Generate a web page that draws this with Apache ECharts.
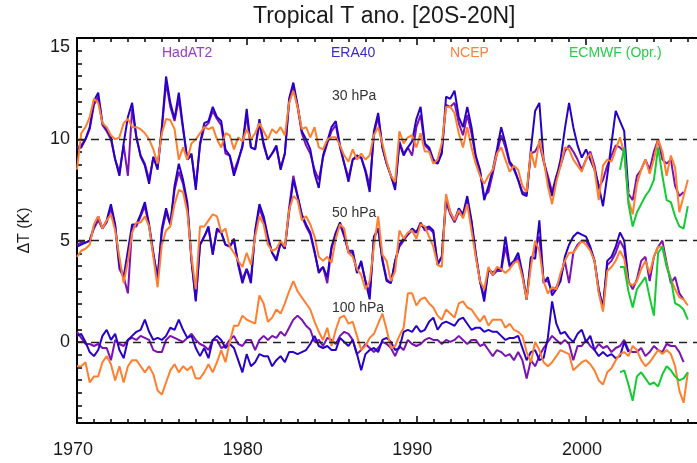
<!DOCTYPE html>
<html>
<head>
<meta charset="utf-8">
<script src="https://cdn.jsdelivr.net/npm/echarts@6/dist/echarts.min.js"></script>
<style>
  html, body { margin: 0; padding: 0; background: #fff; }
  #main { width: 697px; height: 463px; }
</style>
</head>
<body>
<div id="main"></div>
<script>
// quarterly anomalies (K); offsets below stack the levels
const t0 = 1970
const tEcmwf = 2002
const step = 0.25
const levelOffset = { '30 hPa': 10, '50 hPa': 5, '100 hPa': 0 }

// ---- 30 hPa ----
const had30 = [
  -0.4, -0.3, 0.0, 0.5,  1.7, 2.1, 0.7, 0.4,  0.0, -1.0, -1.6, -0.3,  -1.8, 1.5, 0.1, -0.8,
  -1.2, -2.0, -0.9, -1.4,  0.5, 2.8, 1.6, 0.9,  2.0, 0.5, -1.0, -0.8,  -2.3, -0.3, 0.6, 0.8,
  1.4, 1.0, 0.7, -0.7,  -0.8, -1.6, -1.0, -0.4,  1.2, -0.4, -0.5, 0.8,  -0.3, -1.0, -0.7, -0.4,
  -1.4, -0.7, 1.8, 2.6,  1.6, 0.3, -0.3, -0.7,  -1.5, -2.0, -0.9, -0.2,  0.4, 0.7, -0.4, -1.2,
  -1.9, -1.0, -0.9, -0.9,  -1.5, -2.3, 0.3, 1.1,  -0.4, -1.2, -1.8, -2.3,  -0.1, -0.7, -0.4, -0.8,
  0.6, 1.2, -0.3, -0.5,  -1.1, -1.2, -0.6, 1.7,  1.6, 1.8, 0.8, 0.2,  1.2, 0.3, -0.9, -1.6,
  -2.8, -2.6, -1.7, -0.7,  0.2, -0.4, -1.2, -1.5,  -2.0, -2.6, -2.7, -0.7,  -0.6, -0.2, -1.1, -1.8,
  -2.6, -1.8, -1.3, -0.6,  -0.3, -0.6, -1.0, -1.5,  -1.0, -0.6, -1.3, -2.4,  -2.0, -1.3, -0.8, -0.3,
  -0.4, -0.6, -2.7, -3.0,  -1.8, -1.5, -1.0, -1.5,  -0.6, 0.0, -1.0, -1.2,  -1.0, -2.3, -2.8, -2.6
]
const era30 = [
  -0.5, -0.4, 0.0, 0.6,  1.9, 2.3, 0.8, 0.5,  0.1, -1.0, -1.8, -0.2,  1.1, 1.8, 0.1, -0.85,
  -1.3, -2.2, -0.85, -1.5,  0.6, 3.1, 1.8, 1.0,  2.3, 0.6, -1.0, -0.7,  -2.5, -0.2, 0.8, 0.9,
  1.6, 1.1, 0.9, -0.5,  -0.8, -1.8, -1.1, -0.3,  1.5, -0.4, -0.5, 1.0,  -0.2, -1.0, -0.7, -0.3,
  -1.5, -0.7, 2.0, 2.8,  1.7, 0.4, 0.0, -0.5,  -1.7, -2.4, -0.8, -0.1,  0.6, 0.9, -0.3, -1.2,
  -2.1, -1.0, -0.8, -0.9,  -1.6, -2.6, 0.4, 1.3,  -0.4, -1.2, -1.8, -2.5,  -0.2, -0.8, -0.4, -0.1,
  1.0, 1.6, -0.2, -0.4,  -1.0, -1.2, -0.7, 2.1,  2.0, 2.4, 1.1, 0.6,  1.6, 0.6, -0.8, -1.5,
  -3.0, -2.3, -1.5, -0.5,  0.6, -0.2, -1.1, -1.4,  -2.0, -2.7, -2.8, -0.5,  1.4, 1.8, -1.0, -2.0,
  -2.8, -1.9, -1.0, 0.5,  1.8, 0.6, -0.3, -0.9,  -0.5, -1.0, -1.5, -2.3,  -3.3, -1.8, -0.2, 1.4,
  0.9, 0.4, -2.6
]
const ncep30 = [
  -1.5, 0.3, 0.6, 1.1,  2.0, 1.8, 0.8, 0.6,  0.2, 0.0, 0.1, 0.8,  1.0, 0.6, 0.6, 0.5,
  0.3, 0.0, -0.5, -1.2,  0.3, 1.0, 0.95, 0.5,  -1.0, -0.4, -1.0, -0.2,  0.0, 0.3, 0.6, 0.5,
  0.6, 0.0, -0.4, 0.3,  0.2, -0.5, 0.1, -0.1,  0.5, 0.0, 0.3, 0.8,  0.4, 0.0, 0.5, 0.3,
  0.6, 0.2, 1.8, 2.4,  1.6, 0.5, 0.6, 0.1,  0.6, -0.4, -0.5, 0.0,  0.1, 0.1, -0.3, -0.8,
  -1.1, -0.5, -1.0, -0.7,  -1.0, -0.8, 0.2, 0.6,  -0.2, -1.1, -1.8, -2.1,  0.4, -0.2, 0.1, 0.2,
  -0.4, 0.3, -0.6, -0.6,  -1.2, -1.0, -0.2, 1.6,  1.6, 1.3, 0.3, -0.4,  0.6, -0.4, -1.2, -1.8,
  -2.2, -1.8, -1.5, -0.7,  -0.4, -1.0, -1.6, -1.3,  -1.5, -2.3, -2.6, -0.6,  -1.4, 0.0, -1.0, -2.3,
  -3.2, -2.1, -1.3, -0.4,  -0.5, -1.0, -1.3, -1.6,  -1.0, -0.7, -1.5, -3.0,  -1.3, -1.0, -1.1, -0.5,
  0.1, -0.7, -3.0, -3.7,  -2.2, -1.5, -1.0, -1.7,  -1.0, 0.0, -0.6, -1.8,  -0.8, -1.4, -3.6, -2.8,
  -2.0
]
const ecmwf30 = [-1.5, -0.4, -3.2, -4.3, -3.6, -3.2, -2.8, -2.5, -2.0, -0.4, -1.8, -3.0, -3.1, -3.8, -4.3, -4.4, -3.3]

// ---- 50 hPa ----
const had50 = [
  -0.2, -0.1, -0.1, 0.0,  0.6, 1.0, 0.6, 0.9,  1.6, 0.7, -1.4, -1.8,  -2.6, 0.7, 0.7, 1.2,
  1.7, 0.7, -0.7, -1.8,  0.4, 1.4, 0.8, 2.5,  3.4, 2.8, 1.7, -1.0,  -2.9, -0.2, 0.2, 0.6,
  -0.6, 0.5, 0.4, -0.2,  -0.3, 0.0, -1.1, -1.9,  -1.4, -1.9, 0.4, 1.6,  1.0, 0.1, -0.6, -0.9,
  -0.1, -0.4, 1.6, 3.2,  2.2, 1.2, 0.7, 0.3,  -0.6, -1.5, -1.3, -2.1,  -0.4, 0.3, 0.8, 0.2,
  -0.6, -0.6, -1.5, -1.1,  -2.0, -2.6, 0.1, 0.6,  -0.9, -1.9, -2.1, -1.0,  -0.3, 0.0, 0.3, 0.5,
  0.4, 0.9, 0.5, 0.6,  0.4, -1.1, -0.8, 1.9,  1.3, 0.9, 1.4, 1.2,  2.0, 0.9, -0.7, -2.0,
  -2.8, -1.4, -1.7, -1.5,  -1.5, -0.3, -1.3, -1.1,  -0.8, -1.7, -2.9, -1.0,  -0.4, 0.2, -2.0, -2.0,
  -2.5, -2.3, -1.8, -1.0,  -2.1, -0.6, -0.2, 0.0,  0.0, -0.4, -1.0, -2.5,  -3.3, -1.2, -1.0, -0.6,
  0.0, -0.4, -2.0, -2.4,  -1.9, -1.0, -0.8, -2.0,  -0.8, -0.3, 0.0, -1.1,  -2.1, -1.8, -2.6, -2.9
]
const era50 = [
  -0.3, -0.2, -0.1, 0.0,  0.7, 1.2, 0.6, 1.0,  1.8, 0.8, -1.2, -1.8,  -0.5, 0.8, 0.8, 1.3,
  1.9, 0.8, -0.6, -1.9,  0.6, 1.6, 0.8, 2.7,  3.8, 3.0, 1.9, -1.0,  -3.0, -0.2, 0.2, 0.7,
  -0.7, 0.6, 0.4, -0.2,  -0.3, 0.1, -1.2, -2.1,  -1.4, -2.1, 0.5, 1.8,  1.2, 0.2, -0.6, -1.0,
  -0.1, -0.4, 1.4, 3.0,  2.2, 1.3, 0.8, 0.4,  -0.5, -1.6, -1.3, -1.8,  -0.3, 0.4, 0.9, 0.3,
  -0.5, -0.5, -1.6, -1.0,  -2.0, -2.9, 0.2, 0.6,  -1.0, -2.0, -2.1, -1.0,  -0.2, 0.1, 0.3, 0.6,
  0.4, 0.8, 0.6, 0.7,  0.5, -1.2, -0.8, 2.1,  1.4, 1.0, 1.6, 1.3,  2.2, 1.0, -0.6, -2.0,
  -3.0, -1.4, -1.6, -1.4,  -1.4, 0.2, -1.2, -1.0,  -0.6, -1.6, -2.9, -0.8,  -0.9, 1.0, -2.1, -1.8,
  -2.7, -2.4, -2.0, -0.8,  -0.2, 0.2, 0.4, 0.3,  0.2, -0.3, -1.0, -2.4,  -3.3, -1.0, -0.8, -0.3,
  0.4, 0.0, -2.0
]
const ncep50 = [
  -0.8, -0.5, -0.4, -0.2,  0.8, 1.2, 0.6, 1.0,  1.3, 0.5, -0.8, -2.1,  -1.0, 0.4, 0.9, 0.9,
  1.2, 0.7, -0.8, -2.3,  -0.2, 0.5, 0.7, 1.8,  2.5, 2.4, 1.4, -0.8,  -2.4, 0.7, 0.7, 1.0,
  1.3, 1.2, 0.4, 0.6,  -0.3, -0.6, -1.0, -1.3,  -0.6, -1.2, 0.2, 1.2,  0.8, -0.2, -0.5, -0.4,
  0.0, -0.3, 1.5, 2.2,  2.0, 1.0, 1.2, 0.8,  0.2, -0.8, -1.0, -0.8,  -1.1, 0.1, 0.8, 0.6,
  -0.6, -0.8, -1.4, -1.7,  -2.4, -2.0, -0.3, 1.2,  -0.7, -1.0, -2.0, -1.5,  0.5, 0.1, 0.4, 0.5,
  0.1, 0.8, 0.7, 0.2,  -0.3, -1.2, -1.3, 2.3,  1.4, 1.0, 1.5, 1.1,  1.8, 0.5, -0.8, -2.0,
  -2.4, -1.3, -1.7, -1.3,  -1.4, -1.6, -1.4, -1.1,  -1.0, -1.8, -2.9, -1.3,  0.0, -0.5, -2.0, -2.6,
  -2.3, -2.4, -1.6, -1.0,  -0.6, -0.6, -0.3, 0.0,  -0.2, -0.5, -1.0, -2.6,  -3.5, -1.5, -1.3, -1.0,
  -0.5, -0.9, -2.1, -2.2,  -2.0, -1.4, -1.0, -1.6,  -0.8, -0.3, -0.3, -1.2,  -1.9, -2.4, -2.8, -2.9,
  -3.2
]
const ecmwf50 = [-1.3, -1.3, -2.5, -3.3, -2.4, -2.1, -1.8, -2.8, -3.7, -0.6, -0.3, -1.3, -1.9, -3.1, -3.2, -3.4, -3.9]

// ---- 100 hPa ----
const had100 = [
  0.5, 0.2, -0.1, -0.1,  -0.2, -0.1, -0.3, -0.3,  -0.9, 0.1, -0.1, -0.2,  0.1, 0.2, 0.1, 0.3,
  0.2, 0.1, -0.4, -0.5,  -0.5, 0.1, 0.3, 0.2,  0.1, 0.0, 0.2, 0.4,  0.1, -0.1, -0.2, -0.4,
  0.1, 0.1, -0.3, -0.2,  0.1, 0.3, -0.1, -0.2,  0.1, 0.1, -0.4, 0.1,  0.3, 0.1, 0.3, 0.2,
  0.5, 0.3, 0.7, 1.1,  1.3, 1.1, 0.8, 0.6,  0.0, 0.1, -0.2, 0.2,  0.1, -0.1, 0.3, 0.5,
  0.4, 0.1, -0.6, -0.4,  -0.1, -0.3, -0.5, -0.3,  0.0, -0.1, -0.3, -0.7,  -0.2, -0.4, 0.1, -0.1,
  -0.2, -0.1, 0.1, 0.2,  0.1, 0.1, -0.1, 0.1,  0.0, 0.1, 0.3, 0.1,  -0.1, 0.1, 0.1, -0.2,
  -0.1, -0.4, -0.7, -0.4,  -0.5, -0.7, -0.6, -0.9,  -0.5, -0.9, -1.8, -0.9,  -1.2, -0.7, -0.3, 0.0,
  0.3, 0.1, -0.1, 0.1,  -0.1, -0.9, -0.2, -0.2,  0.1, -0.2, -0.4, -0.1,  -0.3, -0.2, -0.5, -0.3,
  -0.2, 0.1, -0.4, -0.5,  -0.5, -0.3, -0.7, -0.5,  -0.2, -0.4, -0.5, -0.1,  -0.2, -0.2, -0.5, -1.0
]
const era100 = [
  0.3, 0.4, 0.0, -0.5,  -0.7, -0.4, 0.3, 0.6,  0.1, 0.4, -0.4, -0.8,  0.1, 0.3, 0.5, 0.6,
  1.1, 0.5, 0.1, 0.2,  0.1, 0.3, 0.7, 0.6,  1.1, 0.6, 0.2, 0.3,  -0.3, -0.7, -0.3, -0.8,
  0.1, 0.3, 0.1, -0.3,  -0.1, -0.3, -0.9, -1.5,  -0.6, -1.2, -1.0, -0.6,  -0.7, -0.7, -1.2, -0.9,
  -0.7, -1.0, -0.5, -0.5,  -0.6, -0.5, -0.4, -0.1,  0.3, -0.2, -0.3, -0.2,  -0.4, -0.4, 0.2, 0.0,
  -0.2, 0.1, -0.6, -1.4,  -0.6, -0.4, -0.3, -0.5,  0.1, 0.2, 0.0, -0.4,  -0.3, 0.5, 0.6, 0.5,
  0.8, 0.5, 0.6, 1.0,  1.2, 0.6, 0.9, 1.0,  0.9, 0.8, 1.1, 1.2,  0.9, 0.6, 0.7, 0.7,
  0.5, 0.6, 0.5, 0.5,  0.3, 0.1, 0.2, 0.2,  0.3, -0.3, -0.9, -0.5,  -0.4, -0.9, -0.8, 0.2,
  2.0, 0.9, 0.4, 0.5,  0.2, 0.0, 0.4, 0.6,  0.0, 0.3, -0.4, -0.7,  -0.5, -0.7, -0.6, -0.8,
  -0.7, 0.0, -0.5
]
const ncep100 = [
  -1.2, -1.2, -1.0, -2.0,  -1.7, -1.7, -1.0, -0.7,  -1.1, -1.9, -1.2, -2.0,  -1.2, -0.9, -0.9, -1.2,
  -1.5, -1.2, -1.6, -2.4,  -2.6, -2.0, -1.4, -1.1,  -1.5, -1.2, -1.4, -1.2,  -1.8, -1.8, -1.5, -1.1,
  -1.5, -1.0, -0.4, -1.0,  0.0, 0.8, 0.8, 1.3,  1.1, 1.0, 0.9, 2.3,  1.9, 1.0, 1.2, 1.6,
  1.4, 1.9, 2.5, 3.0,  2.5, 2.2, 1.9, 1.6,  1.0, 0.5, 0.1, 0.7,  -0.2, 0.6, 1.2, 1.3,
  0.9, 1.0, 0.3, -0.4,  -0.2, 0.2, 0.4, 0.9,  1.4, 0.6, -0.3, -0.2,  0.3, 0.7, 2.4, 2.4,
  1.8, 2.1, 2.2, 1.9,  1.7, 1.3, 1.1, 1.6,  1.4, 1.2, 1.9, 2.0,  1.7, 1.6, 1.3, 1.0,
  1.3, 0.8, 1.1, 1.1,  1.1, 0.7, 0.9, 0.6,  0.5, 0.3, -0.5, -1.0,  0.0, -0.4, -1.0, -1.2,
  -1.0, -0.7, -0.4, -0.5,  -0.6, -1.4, -1.2, -1.0,  -0.9, -1.1, -1.4, -1.9,  -2.1, -1.5, -1.3, -0.9,
  -0.6, -0.5, -0.7, -0.2,  -0.4, -0.9, -1.2, -1.0,  -0.7, -0.4, -0.6, -0.4,  -0.6, -1.2, -2.4, -3.0,
  -1.5
]
const ecmwf100 = [-1.5, -1.4, -2.1, -2.9, -1.7, -1.5, -1.8, -2.1, -2.0, -2.2, -1.6, -1.2, -1.4, -1.7, -1.9, -1.8, -1.5]

const yearLabels = [1970, 1980, 1990, 2000]
const yLabels = [0, 5, 10, 15]

const datasets = [
  { name: 'HadAT2', color: '#7a12b4', text: '#9a3ccc', start: t0, levels: [had30, had50, had100], legendLeft: 157 },
  { name: 'ERA40', color: '#2800c8', text: '#3a28d0', start: t0, levels: [era30, era50, era100], legendLeft: 326 },
  { name: 'NCEP', color: '#ff7f2e', text: '#ff8040', start: t0, levels: [ncep30, ncep50, ncep100], legendLeft: 445 },
  { name: 'ECMWF (Opr.)', color: '#14cc32', text: '#2acc4a', start: tEcmwf, levels: [ecmwf30, ecmwf50, ecmwf100], legendLeft: 564 }
]
const levelNames = ['30 hPa', '50 hPa', '100 hPa']

const font = 'Liberation Sans, Arial, Helvetica, sans-serif'
const ink = '#1a1a1a'

function toPairs(start, vals, off) {
  return vals.map((v, i) => [start + i * step, v + off])
}

const series = []
datasets.forEach((ds) => {
  ds.levels.forEach((vals, k) => {
    series.push({
      name: ds.name,
      type: 'line',
      data: toPairs(ds.start, vals, levelOffset[levelNames[k]]),
      showSymbol: false,
      symbol: 'none',
      lineStyle: { color: ds.color, width: 2 },
      itemStyle: { color: ds.color },
      z: 2
    })
  })
})
// dashed zero lines for each level
series[0].markLine = {
  silent: true,
  symbol: 'none',
  label: { show: false },
  lineStyle: { color: '#222', type: [8, 6], width: 1.3 },
  data: levelNames.map((n) => ({ yAxis: levelOffset[n] })),
  z: 5
}

// tick positions (not data)
const xMinor = []
for (let y = 1971; y <= 2006; y++) if (y % 10 !== 0) xMinor.push(y)
const yMinor = []
for (let k = -6; k <= 24; k++) if (k % 8 !== 0) yMinor.push(k * 0.625)

const xMin = 1970, xMax = 2006.54
const axisLine = { show: true, onZero: false, lineStyle: { color: '#000', width: 2 } }
const noLine = { show: false, onZero: false }

const option = {
  animation: false,
  backgroundColor: '#fff',
  title: {
    text: 'Tropical T ano. [20S-20N]',
    left: 253,
    top: 5,
    padding: 0,
    textStyle: { fontFamily: font, fontSize: 23, fontWeight: 'normal', color: ink }
  },
  legend: datasets.map((ds) => ({
    data: [{ name: ds.name, textStyle: { color: ds.text } }],
    left: ds.legendLeft,
    top: 46,
    padding: 0,
    icon: 'none',
    itemWidth: 0,
    itemHeight: 14,
    selectedMode: false,
    textStyle: { fontFamily: font, fontSize: 14 }
  })),
  graphic: levelNames.map((n, i) => ({
    type: 'text',
    left: 332,
    top: [89, 206, 301][i],
    style: { text: n, fill: '#333', font: '14px ' + font }
  })),
  grid: { left: 77, right: 0, top: 38, bottom: 40 },
  xAxis: [
    {
      type: 'value', min: xMin, max: xMax, position: 'bottom',
      axisLine: axisLine,
      axisTick: { show: true, inside: true, length: 7, customValues: yearLabels, lineStyle: { color: '#000', width: 1.5 } },
      axisLabel: {
        customValues: yearLabels, formatter: (v) => String(v),
        fontSize: 18, fontFamily: font, color: ink, margin: 18, padding: [0, 8, 0, 0]
      },
      splitLine: { show: false }
    },
    {
      type: 'value', min: xMin, max: xMax, position: 'bottom',
      axisLine: noLine,
      axisTick: { show: true, inside: true, length: 4, customValues: xMinor, lineStyle: { color: '#000', width: 1.5 } },
      axisLabel: { show: false },
      splitLine: { show: false }
    },
    {
      type: 'value', min: xMin, max: xMax, position: 'top',
      axisLine: axisLine,
      axisTick: { show: true, inside: true, length: 7, customValues: yearLabels, lineStyle: { color: '#000', width: 1.5 } },
      axisLabel: { show: false },
      splitLine: { show: false }
    },
    {
      type: 'value', min: xMin, max: xMax, position: 'top',
      axisLine: noLine,
      axisTick: { show: true, inside: true, length: 4, customValues: xMinor, lineStyle: { color: '#000', width: 1.5 } },
      axisLabel: { show: false },
      splitLine: { show: false }
    }
  ],
  yAxis: [
    {
      type: 'value', min: -4, max: 15, position: 'left',
      name: 'ΔT (K)',
      nameLocation: 'middle',
      nameRotate: 90,
      nameGap: 44,
      nameTextStyle: { fontFamily: font, fontSize: 16, color: ink },
      axisLine: axisLine,
      axisTick: { show: true, inside: true, length: 8, customValues: yLabels, lineStyle: { color: '#000', width: 1.5 } },
      axisLabel: {
        customValues: yLabels,
        fontSize: 18, fontFamily: font, color: ink, margin: 7,
        formatter: (v) => (v === 15 ? '{t|15}' : String(v)),
        rich: { t: { fontSize: 18, fontFamily: font, color: ink, padding: [18, 0, 0, 0] } }
      },
      splitLine: { show: false }
    },
    {
      type: 'value', min: -4, max: 15, position: 'left',
      axisLine: noLine,
      axisTick: { show: true, inside: true, length: 5, customValues: yMinor, lineStyle: { color: '#000', width: 1.5 } },
      axisLabel: { show: false },
      splitLine: { show: false }
    }
  ],
  series: series
}

const chart = echarts.init(document.getElementById('main'))
chart.setOption(option)
</script>
</body>
</html>
